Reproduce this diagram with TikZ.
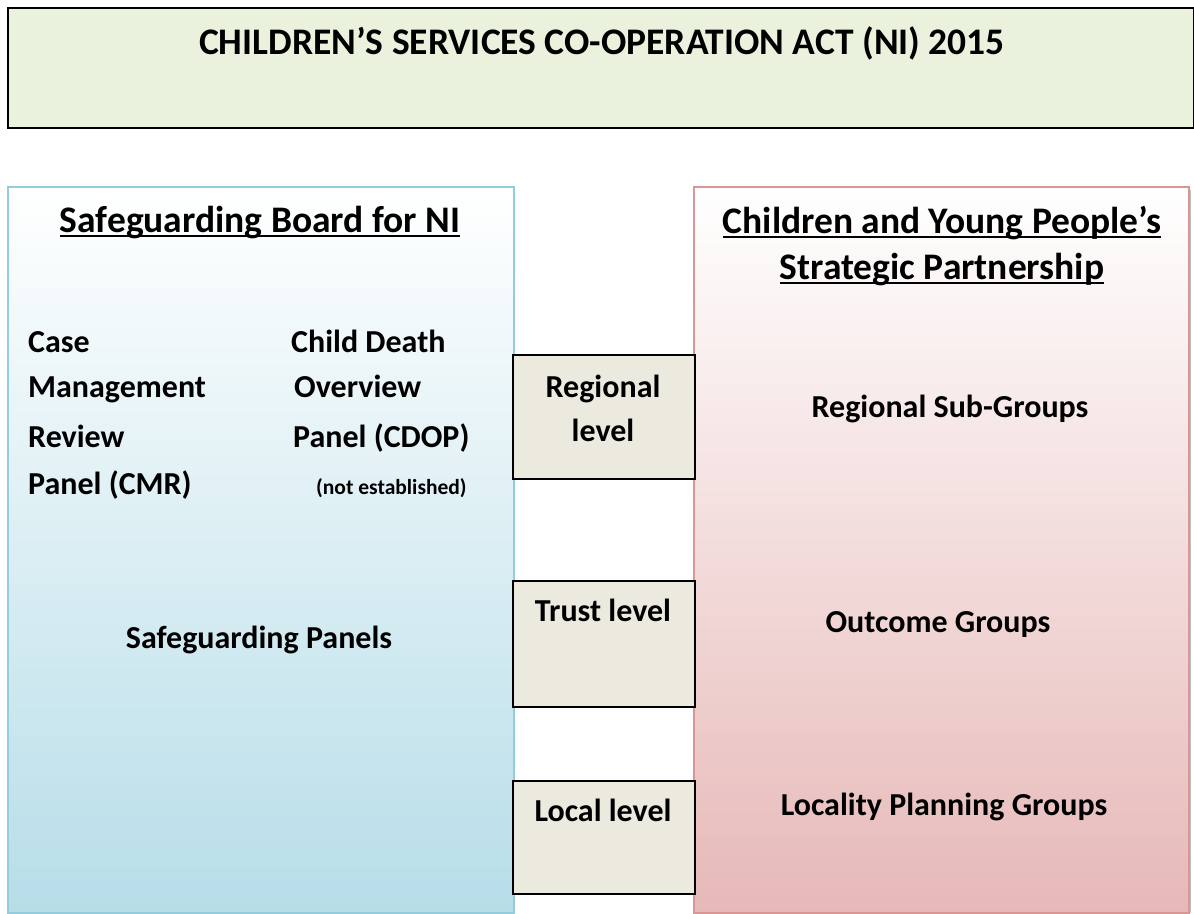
\documentclass[tikz,border=0pt]{standalone}
\usepackage{fontspec}
\setmainfont{Carlito}
\usetikzlibrary{positioning}

\definecolor{titlefill}{HTML}{EAF1DD}
\definecolor{blueedge}{HTML}{93CDDD}
\definecolor{bluebottom}{HTML}{B7DDE8}
\definecolor{pinkedge}{HTML}{D99694}
\definecolor{pinkbottom}{HTML}{E6B9B8}
\definecolor{levelfill}{HTML}{ECEADF}

% underlined heading line
\newcommand\ulline[1]{\setbox0\hbox{#1}\rlap{\rule[-5pt]{\wd0}{2pt}}\box0}
\newcommand\fs[1]{\fontsize{#1}{#1}\selectfont\bfseries}

\tikzset{
  titlebox/.style={draw=black, line width=1.8pt, fill=titlefill, anchor=north west, inner sep=0pt},
  bluebox/.style={draw=blueedge, line width=2pt, shading=axis, top color=white, bottom color=bluebottom, anchor=north west, inner sep=0pt},
  pinkbox/.style={draw=pinkedge, line width=2pt, shading=axis, top color=white, bottom color=pinkbottom, anchor=north west, inner sep=0pt},
  levelbox/.style={draw=black, line width=1.5pt, fill=levelfill, anchor=north west, inner sep=0pt, minimum width=182pt},
  lbl/.style={anchor=base, inner sep=0pt, font=\fs{32}},
  lbll/.style={anchor=base west, inner sep=0pt, font=\fs{32}},
  heading/.style={anchor=base, inner sep=0pt, font=\fs{37.5}},
}

\begin{document}
\begin{tikzpicture}[x=1pt, y=-1pt]
\useasboundingbox (0,0) rectangle (1194,913);

% header
\node[titlebox, minimum width=1186pt, minimum height=120pt] (act) at (7,7) {};
\node[heading] (acttext) at (602,54) {CHILDREN’S SERVICES CO-OPERATION ACT (NI) 2015};

% right column shadow and body
\fill[black!25] (697,190) rectangle (1191,913);
\node[pinkbox, minimum width=495pt, minimum height=726pt] (cyp) at (693,186) {};
% left column body
\node[bluebox, minimum width=506pt, minimum height=726pt] (sbni) at (7,186) {};

% level boxes between the columns
\node[levelbox, minimum height=124pt] (regional) at (512,354) {};
\node[levelbox, minimum height=126pt] (trust) at (512,580) {};
\node[levelbox, minimum height=113pt] (local) at (512,780) {};

% headings
\node[heading] (sbnih) at (260,232) {\ulline{Safeguarding Board for NI}};
\node[heading] (cyph1) at (942,233) {\ulline{Children and Young People’s}};
\node[heading] (cyph2) at (942,279) {\ulline{Strategic Partnership}};

% left column panels
\node[lbll] (cmr1) at (28,352) {Case};
\node[lbll] (cmr2) at (28,397) {Management};
\node[lbll] (cmr3) at (28,447) {Review};
\node[lbll] (cmr4) at (28,494) {Panel (CMR)};
\node[lbll] (cdop1) at (291,352) {Child Death};
\node[lbll] (cdop2) at (294,397) {Overview};
\node[lbll] (cdop3) at (293,447) {Panel (CDOP)};
\node[lbll, font=\fs{21.5}] (cdop4) at (316,494) {(not established)};
\node[lbl] (panels) at (259,648) {Safeguarding Panels};

% level labels
\node[lbl] (reg1) at (603,397) {Regional};
\node[lbl] (reg2) at (603,441) {level};
\node[lbl] (trustt) at (603,621) {Trust level};
\node[lbl] (localt) at (603,821) {Local level};

% right column groups
\node[lbl] (subgroups) at (950,417) {Regional Sub-Groups};
\node[lbl] (outcome) at (938,632) {Outcome Groups};
\node[lbl] (locality) at (944,815) {Locality Planning Groups};
\end{tikzpicture}
\end{document}
